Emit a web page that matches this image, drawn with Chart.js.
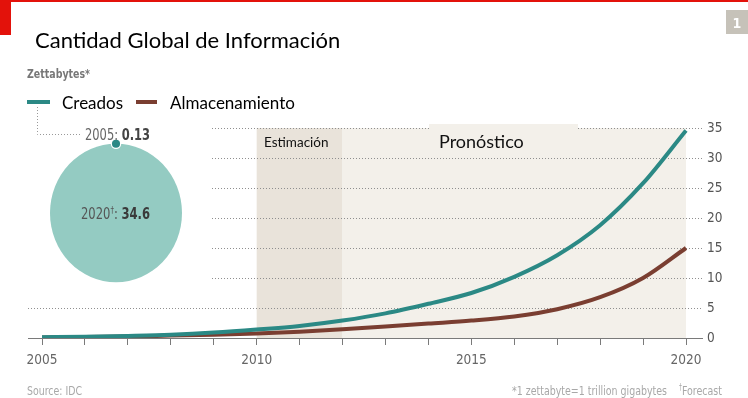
<!DOCTYPE html>
<html>
<head>
<meta charset="utf-8">
<script src="https://cdn.jsdelivr.net/npm/chart.js@4.4.1/dist/chart.umd.min.js"></script>
<style>
  html, body { margin: 0; padding: 0; background: #fff; }
  #wrap { position: relative; width: 748px; height: 398px; }
</style>
</head>
<body>
<div id="wrap"><canvas id="infoChart" width="748" height="398"></canvas></div>
<script>
// Data (zettabytes)
const years = ['2005','2006','2007','2008','2009','2010','2011','2012','2013','2014','2015','2016','2017','2018','2019','2020'];
const created = [0.13, 0.2, 0.35, 0.55, 0.9, 1.4, 2.0, 2.9, 4.1, 5.7, 7.5, 10.2, 13.8, 18.8, 25.8, 34.6];
const stored = [0.1, 0.15, 0.25, 0.4, 0.55, 0.75, 1.05, 1.45, 1.9, 2.4, 2.9, 3.6, 4.8, 6.8, 10.0, 15.0];
const yTicks = [0, 5, 10, 15, 20, 25, 30, 35];
const xLabelYears = ['2005', '2010', '2015', '2020'];
const estimateSpan = ['2010', '2012'];
const forecastSpan = ['2012', '2020'];
const circleLabels = ['2005', '2020'];
const circleValues = [0.13, 34.6];

const TEAL = '#2b8985';
const BROWN = '#7a3e31';
const NARROW = "'DejaVu Sans Condensed', 'Liberation Sans', sans-serif";
const HUMAN = "Lato, 'Open Sans', sans-serif";

// draw text squeezed to a given width
function fitText(ctx, text, x, y, w) {
    const m = ctx.measureText(text).width;
    ctx.save();
    ctx.translate(x, y);
    ctx.scale(w / m, 1);
    ctx.fillText(text, 0, 0);
    ctx.restore();
}

// draw a run of [text, font, color, dy] pieces squeezed to width w
function fitRuns(ctx, runs, x, y, w) {
    let total = 0;
    runs.forEach(r => { ctx.font = r[1]; total += ctx.measureText(r[0]).width; });
    ctx.save();
    ctx.translate(x, y);
    ctx.scale(w / total, 1);
    let cx = 0;
    runs.forEach(r => {
        ctx.font = r[1];
        ctx.fillStyle = r[2];
        ctx.fillText(r[0], cx, r[3] || 0);
        cx += ctx.measureText(r[0]).width;
    });
    ctx.restore();
}

const decorPlugin = {
    id: 'decor',
    beforeDatasetsDraw(chart) {
        const ctx = chart.ctx;
        const x = chart.scales.x;
        const y = chart.scales.y;
        const top = y.getPixelForValue(35);
        const bottom = y.getPixelForValue(0);

        // Shaded periods
        const e0 = x.getPixelForValue(years.indexOf(estimateSpan[0]));
        const e1 = x.getPixelForValue(years.indexOf(estimateSpan[1]));
        const f1 = x.getPixelForValue(years.indexOf(forecastSpan[1]));
        ctx.save();
        ctx.fillStyle = '#e9e3da';
        ctx.fillRect(e0, top, e1 - e0, bottom - top);
        ctx.fillStyle = '#f3f0ea';
        ctx.fillRect(e1, top, f1 - e1, bottom - top);

        // Dotted gridlines
        ctx.strokeStyle = '#8f8f8f';
        ctx.lineWidth = 1;
        ctx.setLineDash([1, 2]);
        yTicks.forEach(v => {
            if (v === 0) return;
            const py = Math.round(y.getPixelForValue(v)) + 0.5;
            ctx.beginPath();
            ctx.moveTo(v === 5 ? 28 : 212, py);
            ctx.lineTo(703, py);
            ctx.stroke();
        });
        // label box for the forecast caption sits over the top line
        ctx.fillStyle = '#f3f0ea';
        ctx.fillRect(429, 124, 149, 6);

        // Baseline
        ctx.setLineDash([]);
        ctx.strokeStyle = '#7a7a7a';
        ctx.lineWidth = 1.2;
        ctx.beginPath();
        ctx.moveTo(28, bottom + 0.5);
        ctx.lineTo(703, bottom + 0.5);
        ctx.stroke();
        ctx.restore();
    },
    afterDraw(chart) {
        const ctx = chart.ctx;
        ctx.save();
        ctx.textAlign = 'left';
        ctx.textBaseline = 'alphabetic';

        // Red header marks
        ctx.fillStyle = '#e3120b';
        ctx.fillRect(0, 0, 748, 2);
        ctx.fillRect(0, 0, 11, 35);

        // Page number box
        ctx.fillStyle = '#c6c2b9';
        ctx.fillRect(726, 10, 22, 24);
        ctx.fillStyle = '#fff';
        ctx.font = 'bold 14px ' + NARROW;
        ctx.textAlign = 'center';
        ctx.fillText('1', 737, 28);
        ctx.textAlign = 'left';

        // Title
        ctx.fillStyle = '#000';
        ctx.font = '22px ' + HUMAN;
        ctx.fillText('Cantidad Global de Información', 35, 48);

        // Unit
        ctx.fillStyle = '#777';
        ctx.font = 'bold 12px ' + NARROW;
        fitText(ctx, 'Zettabytes*', 27, 78, 63);

        // Legend
        const ds = chart.data.datasets;
        ctx.lineWidth = 4;
        ctx.strokeStyle = ds[0].borderColor;
        ctx.beginPath(); ctx.moveTo(27, 102); ctx.lineTo(50, 102); ctx.stroke();
        ctx.strokeStyle = ds[1].borderColor;
        ctx.beginPath(); ctx.moveTo(136, 102); ctx.lineTo(157, 102); ctx.stroke();
        ctx.fillStyle = '#000';
        ctx.font = '17px ' + HUMAN;
        ctx.fillText(ds[0].label, 62, 109);
        ctx.fillText(ds[1].label, 170, 109);

        // Period captions
        ctx.font = '13.5px ' + HUMAN;
        ctx.fillStyle = '#111';
        ctx.fillText('Estimación', 264, 147);
        ctx.font = '18px ' + HUMAN;
        ctx.fillText('Pronóstico', 439, 148);

        // Connector from legend to the small circle label
        ctx.strokeStyle = '#999';
        ctx.lineWidth = 1;
        ctx.setLineDash([1, 2]);
        ctx.beginPath();
        ctx.moveTo(37.5, 107);
        ctx.lineTo(37.5, 134.5);
        ctx.lineTo(82, 134.5);
        ctx.stroke();
        ctx.setLineDash([]);

        // Proportional circles (area ~ value)
        const cx = 116, cy = 213, R = 66;
        const rSmall = R * Math.sqrt(circleValues[0] / circleValues[1]);
        const ry = R * 1.05;
        ctx.fillStyle = '#94cbc2';
        ctx.beginPath();
        ctx.ellipse(cx, cy, R, ry, 0, 0, Math.PI * 2);
        ctx.fill();
        ctx.beginPath();
        ctx.arc(cx, cy - ry, rSmall + 1.2, 0, Math.PI * 2);
        ctx.fillStyle = '#fff';
        ctx.fill();
        ctx.beginPath();
        ctx.arc(cx, cy - ry, rSmall, 0, Math.PI * 2);
        ctx.fillStyle = TEAL;
        ctx.fill();

        // Circle labels
        const reg = '15px ' + NARROW, bold = 'bold 15px ' + NARROW, sup = '9px ' + NARROW;
        fitRuns(ctx, [
            [circleLabels[0] + ': ', reg, '#666'],
            [circleValues[0].toFixed(2), bold, '#444']
        ], 85, 140, 65);
        fitRuns(ctx, [
            [circleLabels[1], reg, '#555'],
            ['†', sup, '#555', -6],
            [': ', reg, '#555'],
            [circleValues[1].toFixed(1), bold, '#3a3a3a']
        ], 81, 219, 69);

        // Footer
        ctx.font = '13px ' + NARROW;
        ctx.fillStyle = '#a8a8a8';
        fitText(ctx, 'Source: IDC', 27, 395, 55);
        fitText(ctx, '*1 zettabyte=1 trillion gigabytes', 512, 395, 155);
        fitRuns(ctx, [
            ['†', '8px ' + NARROW, '#a8a8a8', -5],
            ['Forecast', '13px ' + NARROW, '#a8a8a8']
        ], 679, 395, 43);

        ctx.restore();
    }
};

new Chart(document.getElementById('infoChart'), {
    type: 'line',
    data: {
        labels: years,
        datasets: [
            {
                label: 'Creados',
                data: created,
                borderColor: TEAL,
                borderWidth: 4,
                pointRadius: 0,
                cubicInterpolationMode: 'monotone',
                fill: false
            },
            {
                label: 'Almacenamiento',
                data: stored,
                borderColor: BROWN,
                borderWidth: 4,
                pointRadius: 0,
                cubicInterpolationMode: 'monotone',
                fill: false
            }
        ]
    },
    options: {
        responsive: false,
        animation: false,
        layout: { padding: { left: 42, top: 128, right: 0, bottom: 0 } },
        plugins: {
            legend: { display: false },
            tooltip: { enabled: false }
        },
        scales: {
            x: {
                type: 'category',
                offset: false,
                grid: {
                    display: true,
                    drawOnChartArea: false,
                    drawTicks: true,
                    tickLength: 7,
                    color: '#7a7a7a'
                },
                border: { display: false },
                ticks: {
                    autoSkip: false,
                    maxRotation: 0,
                    padding: 7,
                    color: '#666',
                    font: { family: NARROW, size: 13.5 },
                    callback: (val, i) => xLabelYears.includes(years[i]) ? years[i] : ''
                },
                afterFit: s => { s.height = 60; }
            },
            y: {
                position: 'right',
                min: yTicks[0],
                max: yTicks[yTicks.length - 1],
                grid: { display: false, drawTicks: false },
                border: { display: false },
                ticks: {
                    stepSize: 5,
                    padding: 21,
                    color: '#555',
                    font: { family: NARROW, size: 13.5 }
                },
                afterFit: s => { s.width = 62; }
            }
        }
    },
    plugins: [decorPlugin]
});
</script>
</body>
</html>
